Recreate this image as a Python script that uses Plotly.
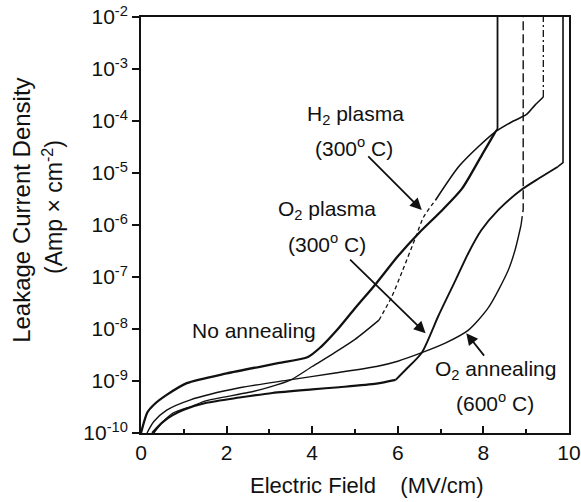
import plotly.graph_objects as go

# ---- data (Electric field in MV/cm, J in A/cm^2) ----
x_none = [0, 0.15, 0.3, 0.6, 1.07, 2.0, 3.2, 3.9, 4.2, 4.6, 5.0, 5.5, 6.0, 6.5,
          7.0, 7.5, 8.0, 8.28, 8.33, 8.33]
j_none = [1.0e-10, 2.5e-10, 3.5e-10, 5.4e-10, 9.1e-10, 1.4e-9, 2.2e-9, 2.9e-9,
          4.5e-9, 1.0e-8, 2.5e-8, 7.6e-8, 2.5e-7, 7.1e-7, 1.8e-6, 5.0e-6, 2.5e-5,
          6.2e-5, 7.1e-5, 1.0e-2]

x_h2 = [0.3, 0.5, 0.74, 1.2, 1.53, 2.5, 3.0, 3.5, 4.0, 4.5, 5.0, 5.56,
        5.86, 6.1, 6.42, 6.6, 6.88, 7.42, 7.88, 8.28, 8.7, 9.0, 9.2, 9.4, 9.4]
j_h2 = [1.0e-10, 1.6e-10, 2.4e-10, 3.3e-10, 4.2e-10, 6.0e-10, 7.6e-10, 1.05e-9,
        1.9e-9, 3.4e-9, 6.3e-9, 1.48e-8, 4.2e-8, 1.26e-7, 5.9e-7, 1.41e-6,
        3.0e-6, 1.32e-5, 3.2e-5, 6.2e-5, 1.0e-4, 1.32e-4, 2.0e-4, 2.9e-4, 1.0e-2]

x_o2p = [0.26, 0.5, 0.74, 1.0, 1.53, 2.3, 3.07, 4.0, 4.63, 5.5, 5.95, 6.2, 6.56,
         6.95, 7.35, 7.65, 7.95, 8.35, 8.88, 9.3, 9.74, 9.86, 9.86]
j_o2p = [1.0e-10, 1.6e-10, 2.2e-10, 2.8e-10, 3.8e-10, 4.8e-10, 5.9e-10, 6.9e-10,
         7.6e-10, 8.9e-10, 1.05e-9, 1.7e-9, 3.5e-9, 1.8e-8, 8.7e-8, 2.9e-7, 7.9e-7,
         1.95e-6, 4.7e-6, 7.9e-6, 1.32e-5, 1.58e-5, 1.0e-2]

x_o2a = [0.14, 0.3, 0.6, 1.14, 2.3, 3.47, 4.5, 5.5, 6.0, 6.56, 7.12, 7.65, 8.12,
         8.58, 8.74, 8.88, 8.93, 8.93]
j_o2a = [1.0e-10, 1.66e-10, 2.75e-10, 4.3e-10, 7.4e-10, 1.05e-9, 1.41e-9, 1.9e-9,
         2.4e-9, 3.5e-9, 5.4e-9, 9.5e-9, 2.6e-8, 1.35e-7, 3.3e-7, 1.0e-6, 2.0e-6,
         1.0e-2]

x_ticks = [0, 2, 4, 6, 8, 10]
y_tick_vals = [1e-10, 1e-9, 1e-8, 1e-7, 1e-6, 1e-5, 1e-4, 1e-3, 1e-2]
y_tick_text = ["10<sup>-10</sup>", "10<sup>-9</sup>", "10<sup>-8</sup>",
               "10<sup>-7</sup>", "10<sup>-6</sup>", "10<sup>-5</sup>",
               "10<sup>-4</sup>", "10<sup>-3</sup>", "10<sup>-2</sup>"]

FONT = "Liberation Sans, Arial, Helvetica, sans-serif"
BLACK = "#111111"

fig = go.Figure()


def seg(xs, ys, i0, i1, width, dash="solid", smooth=True):
    fig.add_trace(go.Scatter(x=xs[i0:i1 + 1], y=ys[i0:i1 + 1], mode="lines",
                             line=dict(color=BLACK, width=width, dash=dash,
                                       shape="spline" if smooth else "linear",
                                       smoothing=0.7),
                             showlegend=False, hoverinfo="skip"))


# No annealing (thick solid): smooth rise, then vertical breakdown
n = len(x_none)
seg(x_none, j_none, 0, n - 3, 2.3)
seg(x_none, j_none, n - 3, n - 1, 1.8, smooth=False)
# O2 plasma (thick solid): flat, kink, steep rise, vertical breakdown
m = len(x_o2p)
seg(x_o2p, j_o2p, 0, 10, 2.1)
seg(x_o2p, j_o2p, 10, m - 3, 1.9)
seg(x_o2p, j_o2p, m - 3, m - 1, 1.6, smooth=False)
# H2 plasma: solid / short dashes / solid / dash-dot breakdown
seg(x_h2, j_h2, 0, 11, 1.4)
seg(x_h2, j_h2, 11, 16, 1.3, "4px,3px")
seg(x_h2, j_h2, 16, 23, 1.6)
seg(x_h2, j_h2, 23, 24, 1.3, "7px,3px,2px,3px", smooth=False)
# O2 annealing: solid then dashed breakdown
seg(x_o2a, j_o2a, 0, 15, 1.4)
seg(x_o2a, j_o2a, 15, 17, 1.4, "9px,4px", smooth=False)

tf = dict(family=FONT, size=21, color=BLACK)

texts = [
    ("H<sub>2</sub> plasma", 5.0, -3.88),
    ("(300<sup>o</sup> C)", 4.98, -4.5),
    ("O<sub>2</sub> plasma", 4.35, -5.71),
    ("(300<sup>o</sup> C)", 4.35, -6.35),
    ("No annealing", 2.65, -8.02),
    ("O<sub>2</sub> annealing", 8.28, -8.79),
    ("(600<sup>o</sup> C)", 8.28, -9.4),
]
for t, xx, yy in texts:
    fig.add_annotation(x=xx, y=yy, xref="x", yref="y", text=t, showarrow=False,
                       font=tf, xanchor="center", yanchor="middle")

arrows = [
    (6.56, -5.71, -55, -55),
    (6.65, -8.08, -77, -75),
    (7.6, -8.08, 19, 24),
]
for xx, yy, ax, ay in arrows:
    fig.add_annotation(x=xx, y=yy, xref="x", yref="y", ax=ax, ay=ay, text="",
                       showarrow=True, arrowhead=2, arrowsize=1.3, arrowwidth=1.8,
                       arrowcolor=BLACK)

# axis titles
fig.add_annotation(x=0.526, y=-0.125, xref="paper", yref="paper",
                   text="Electric Field\u00a0\u00a0\u00a0\u00a0(MV/cm)", showarrow=False,
                   font=dict(family=FONT, size=22, color=BLACK),
                   xanchor="center", yanchor="middle")
fig.add_annotation(x=-0.278, y=0.534, xref="paper", yref="paper",
                   text="Leakage Current Density", showarrow=False, textangle=-90,
                   font=dict(family=FONT, size=24, color=BLACK),
                   xanchor="center", yanchor="middle")
fig.add_annotation(x=-0.206, y=0.543, xref="paper", yref="paper",
                   text="(Amp \u00d7 cm<sup>-2</sup>)", showarrow=False, textangle=-90,
                   font=dict(family=FONT, size=23, color=BLACK),
                   xanchor="center", yanchor="middle")

fig.update_layout(
    width=581, height=502,
    margin=dict(l=141, r=12, t=17, b=69, autoexpand=False),
    paper_bgcolor="white", plot_bgcolor="white",
    font=dict(family=FONT, color=BLACK),
    xaxis=dict(range=[0, 10], tickvals=x_ticks, ticks="inside", ticklen=7,
               tickwidth=1.5, tickcolor=BLACK, showgrid=False, zeroline=False,
               showline=True, linecolor=BLACK, linewidth=1.8, mirror=True,
               automargin=False, ticklabeloverflow="allow",
               tickfont=dict(family=FONT, size=21, color=BLACK),
               minor=dict(dtick=1, ticks="inside", ticklen=4, tickcolor=BLACK,
                          showgrid=False)),
    yaxis=dict(type="log", range=[-10, -2], tickvals=y_tick_vals,
               ticktext=y_tick_text, ticks="outside", ticklen=7, tickwidth=1.5,
               tickcolor=BLACK, showgrid=False, zeroline=False, showline=True,
               linecolor=BLACK, linewidth=1.8, mirror=True, automargin=False,
               ticklabeloverflow="allow",
               tickfont=dict(family=FONT, size=21, color=BLACK)),
)

# remove the default page margin so the 581x502 figure fills the window exactly
fig.write_html("out.html",
               config={"displayModeBar": False},
               post_script="document.body.style.margin='0';"
                           "document.body.style.overflow='hidden';")
